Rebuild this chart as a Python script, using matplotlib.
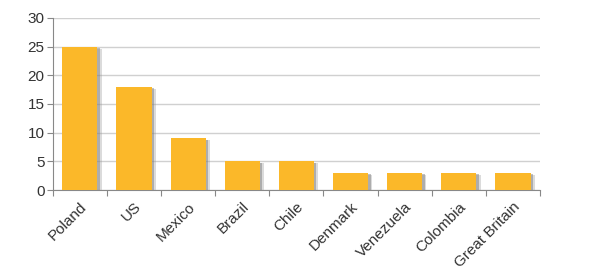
import matplotlib

matplotlib.use("Agg")
import matplotlib.pyplot as plt
import matplotlib.patheffects as pe
import numpy as np

countries = ["Poland", "US", "Mexico", "Brazil", "Chile", "Denmark", "Venezuela", "Colombia", "Great Britain"]
values = [25, 18, 9, 5, 5, 3, 3, 3, 3]
yticks = [0, 5, 10, 15, 20, 25, 30]

plt.rcParams["font.family"] = ["Liberation Sans", "DejaVu Sans"]

fig = plt.figure(figsize=(6.0, 2.75), dpi=100)
ax = fig.add_axes([0.088, 0.309, 0.812, 0.626])

x = np.arange(len(countries))
bars = ax.bar(x, values, width=0.65, color="#FBB829", zorder=3)
for b in bars:
    b.set_path_effects([
        pe.SimplePatchShadow(offset=(3, -1.5), shadow_rgbFace="#999999", alpha=0.35),
        pe.SimplePatchShadow(offset=(1.8, -1), shadow_rgbFace="#777777", alpha=0.45),
        pe.Normal(),
    ])

ax.set_xlim(-0.5, len(countries) - 0.5)
ax.set_ylim(0, 30)
ax.set_yticks(yticks)
ax.set_xticks(np.arange(len(countries) + 1) - 0.5)
ax.set_xticklabels([])
ax.set_xticks(x, minor=True)
ax.set_xticklabels(countries, minor=True, rotation=45, ha="right", rotation_mode="anchor",
                   fontsize=11, color="#333333")
ax.tick_params(axis="x", which="minor", length=0, pad=7)
ax.tick_params(axis="x", which="major", length=4, color="#888888", direction="out")
ax.tick_params(axis="y", length=4, color="#888888", labelsize=11, labelcolor="#333333", pad=2)

ax.grid(axis="y", color="#d0d0d0", linewidth=1, zorder=0)
for s in ["top", "right"]:
    ax.spines[s].set_visible(False)
ax.spines["left"].set_color("#888888")
ax.spines["bottom"].set_color("#888888")

fig.savefig("out.png")
